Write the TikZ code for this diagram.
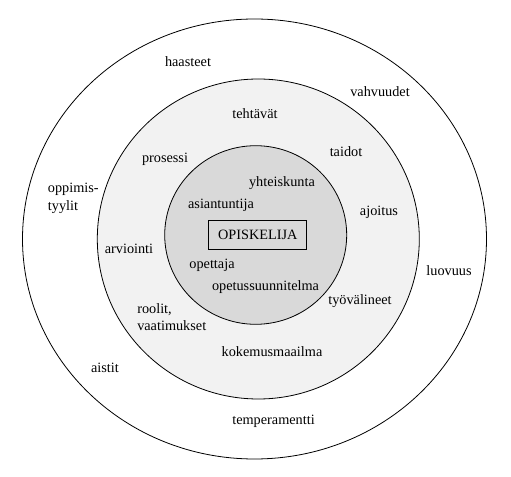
\documentclass[tikz,border=0pt]{standalone}
\usepackage{fontspec}
\setmainfont{Liberation Serif}
\tikzstyle{ring}=[draw=black,line width=0.6pt]
\tikzstyle{word}=[inner sep=0pt,font=\fontsize{10.7}{13.3}\selectfont]
\tikzstyle{wordleft}=[word,align=left,anchor=west]
\newcommand{\putword}[3]{
\node[word] (#1) at (#2) {#3};
}
\begin{document}
\begin{tikzpicture}[x=0.75pt,y=-0.75pt]
	\useasboundingbox (0,0) rectangle (511,477);
	% rings
	\draw[ring,fill=white] (254.5,239) ellipse (232 and 220);
	\draw[ring,fill=black!5] (258.3,239) ellipse (161 and 160);
	\draw[ring,fill=black!15] (255.7,235) ellipse (91 and 89.3);
	\node[ring,word,minimum width=98*0.75pt,minimum height=29*0.75pt] (opiskelija) at (257.8,234.8) {OPISKELIJA};
	% outer ring
	\putword{haasteet}{188,62}{haasteet}
	\putword{vahvuudet}{380,92}{vahvuudet}
	\node[wordleft] (oppimistyylit) at (47.7,198) {oppimis-\\tyylit};
	\putword{luovuus}{449,271}{luovuus}
	\putword{aistit}{105,368}{aistit}
	\putword{temperamentti}{273.5,421}{temperamentti}
	% middle ring
	\putword{tehtavat}{255,114}{tehtävät}
	\putword{taidot}{346,152}{taidot}
	\putword{prosessi}{165,159}{prosessi}
	\putword{ajoitus}{379,212}{ajoitus}
	\putword{arviointi}{129,249}{arviointi}
	\putword{tyovalineet}{360,301}{työvälineet}
	\node[wordleft] (roolit) at (137,317) {roolit,\\vaatimukset};
	\putword{kokemusmaailma}{272,352}{kokemusmaailma}
	% inner circle
	\putword{yhteiskunta}{282,183}{yhteiskunta}
	\putword{asiantuntija}{221,205}{asiantuntija}
	\putword{opettaja}{212,265}{opettaja}
	\putword{opetussuunnitelma}{265.5,287}{opetussuunnitelma}
\end{tikzpicture}
\end{document}
